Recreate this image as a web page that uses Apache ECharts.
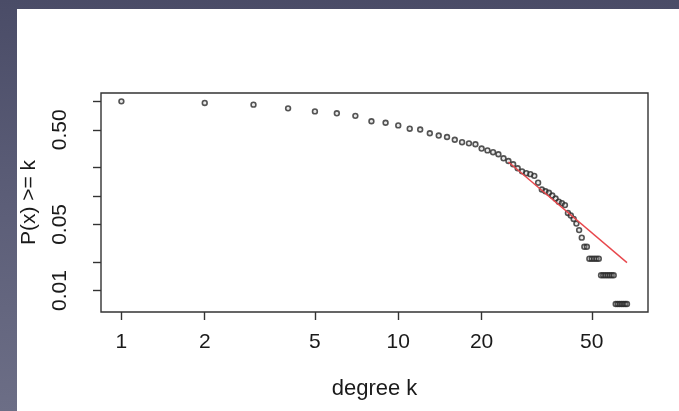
<!DOCTYPE html>
<html>
<head>
<meta charset="utf-8">
<script src="https://cdn.jsdelivr.net/npm/echarts@6/dist/echarts.min.js"></script>
<style>
  html, body { margin: 0; padding: 0; }
  .frame {
    position: relative;
    width: 679px;
    height: 411px;
    background: linear-gradient(180deg, #4a4c67 0%, #5c5e78 50%, #6c6e86 100%);
    overflow: hidden;
  }
  .paper {
    position: absolute;
    left: 17px;
    top: 9px;
    right: 0;
    bottom: 0;
    background: #fff;
  }
  #chart {
    position: absolute;
    left: 0;
    top: 0;
    width: 679px;
    height: 411px;
  }
</style>
</head>
<body>
<div class="frame">
  <div class="paper"></div>
  <div id="chart"></div>
</div>
<script>
// degree k and P(x >= k)
const degrees = [
  1, 2, 3, 4, 5, 6, 7, 8, 9, 10,
  11, 12, 13, 14, 15, 16, 17, 18, 19, 20,
  21, 22, 23, 24, 25, 26, 27, 28, 29, 30,
  31, 32, 33, 34, 35, 36, 37, 38, 39, 40,
  41, 42, 43, 44, 45, 46, 47, 48, 49, 50,
  51, 52, 53, 54, 55, 56, 57, 58, 59, 60,
  61, 62, 63, 64, 65, 66, 67
]
const ccdf = [
  1.000, 0.962, 0.923, 0.844, 0.783, 0.748, 0.703, 0.616, 0.594, 0.557,
  0.514, 0.504, 0.460, 0.435, 0.420, 0.393, 0.370, 0.360, 0.352, 0.317,
  0.303, 0.290, 0.276, 0.250, 0.234, 0.216, 0.196, 0.182, 0.174, 0.170,
  0.163, 0.138, 0.117, 0.112, 0.108, 0.101, 0.094, 0.087, 0.084, 0.080,
  0.066, 0.062, 0.057, 0.051, 0.0435, 0.0362, 0.029, 0.029, 0.0217, 0.0217,
  0.0217, 0.0217, 0.0217, 0.0145, 0.0145, 0.0145, 0.0145, 0.0145, 0.0145, 0.0145,
  0.0072, 0.0072, 0.0072, 0.0072, 0.0072, 0.0072, 0.0072
]

// fitted power-law line (red), end points
const fitK = [25, 67]
const fitP = [0.228, 0.0197]

// tick values
const xTicks = [1, 2, 5, 10, 20, 50]
const yTicks = [0.01, 0.02, 0.05, 0.1, 0.2, 0.5, 1]
const yLabels = [0.01, 0.05, 0.5]

// axis extents (data units)
const kRange = [0.844, 79.8]
const pRange = [0.005925, 1.226]

const FONT = '"Liberation Sans", Arial, Helvetica, sans-serif'
const INK = '#1a1a1a'
const lg = v => Math.log10(v)

const chart = echarts.init(document.getElementById('chart'), null, { renderer: 'canvas' })

chart.setOption({
  backgroundColor: 'transparent',
  animation: false,
  grid: {
    left: 101, right: 31, top: 93, bottom: 99,
    show: true,
    borderColor: '#333',
    borderWidth: 1.4,
    backgroundColor: 'transparent'
  },
  xAxis: {
    type: 'value',
    min: lg(kRange[0]),
    max: lg(kRange[1]),
    axisLine: { show: false, onZero: false },
    splitLine: { show: false },
    axisTick: {
      customValues: xTicks.map(lg),
      length: 8,
      lineStyle: { color: '#333', width: 1.4 }
    },
    axisLabel: {
      customValues: xTicks.map(lg),
      formatter: v => String(Math.round(Math.pow(10, v))),
      fontSize: 21,
      fontFamily: FONT,
      color: INK,
      margin: 20
    },
    name: 'degree k',
    nameLocation: 'middle',
    nameGap: 66,
    nameTextStyle: { fontSize: 22, fontFamily: FONT, color: INK }
  },
  yAxis: {
    type: 'value',
    min: lg(pRange[0]),
    max: lg(pRange[1]),
    axisLine: { show: false, onZero: false },
    splitLine: { show: false },
    axisTick: {
      customValues: yTicks.map(lg),
      length: 8,
      lineStyle: { color: '#333', width: 1.4 }
    },
    axisLabel: {
      customValues: yLabels.map(lg),
      formatter: v => Math.pow(10, v).toFixed(2),
      rotate: 90,
      fontSize: 21,
      fontFamily: FONT,
      color: INK,
      margin: 30
    },
    name: 'P(x) >= k',
    nameLocation: 'middle',
    nameGap: 61,
    nameTextStyle: { fontSize: 21, fontFamily: FONT, color: INK }
  },
  series: [
    {
      type: 'scatter',
      symbol: 'circle',
      symbolSize: 4.8,
      itemStyle: { color: 'rgba(180,180,180,0.35)', borderColor: '#2a2a2a', borderWidth: 1.6 },
      data: degrees.map((k, i) => [lg(k), lg(ccdf[i])])
    },
    {
      type: 'line',
      showSymbol: false,
      lineStyle: { color: '#e8474c', width: 1.4 },
      data: fitK.map((k, i) => [lg(k), lg(fitP[i])])
    }
  ]
})
</script>
</body>
</html>
